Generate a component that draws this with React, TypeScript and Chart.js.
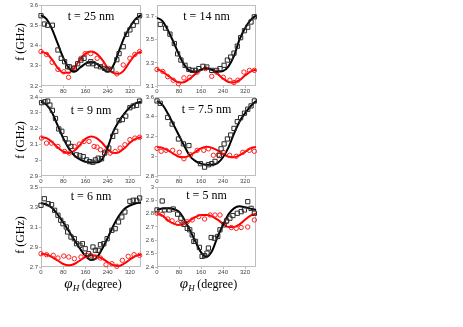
import React, { useEffect, useRef } from "react";
import { Chart, registerables } from "chart.js";
Chart.register(...registerables);

// ---------- shared axis data ----------
const X_TICKS = [0, 80, 160, 240, 320];
const FIT_X = [0, 20, 40, 60, 80, 100, 120, 140, 160, 180, 200, 220, 240, 260, 280, 300, 320, 340, 360];

// ---------- t = 25 nm ----------
const T25_TITLE = "t = 25 nm";
const T25_Y_TICKS = [3.2, 3.3, 3.4, 3.5, 3.6];
const T25_SQ_X = [0, 12, 24, 41, 61, 73, 85, 96, 102, 120, 132, 144, 155, 171, 179, 188, 200, 214, 229, 238, 255, 273, 281, 296, 308, 320, 332, 344, 355];
const T25_SQ_Y = [3.547, 3.506, 3.5, 3.5, 3.378, 3.337, 3.32, 3.295, 3.295, 3.287, 3.31, 3.328, 3.337, 3.31, 3.32, 3.31, 3.3, 3.295, 3.287, 3.28, 3.28, 3.33, 3.36, 3.394, 3.455, 3.477, 3.5, 3.518, 3.547];
const T25_CI_X = [0, 20, 40, 61, 82, 99, 118, 144, 159, 179, 202, 226, 244, 273, 296, 320, 338, 355];
const T25_CI_Y = [3.37, 3.356, 3.317, 3.282, 3.27, 3.243, 3.29, 3.337, 3.36, 3.36, 3.337, 3.3, 3.287, 3.26, 3.304, 3.337, 3.356, 3.37];
const T25_FIT_BLACK = [3.55, 3.53, 3.48, 3.41, 3.34, 3.29, 3.27, 3.29, 3.31, 3.32, 3.31, 3.29, 3.27, 3.3, 3.37, 3.44, 3.49, 3.53, 3.55];
const T25_FIT_RED = [3.37, 3.36, 3.33, 3.29, 3.265, 3.265, 3.29, 3.33, 3.36, 3.37, 3.36, 3.33, 3.29, 3.265, 3.26, 3.28, 3.32, 3.355, 3.37];

// ---------- t = 14 nm ----------
const T14_TITLE = "t = 14 nm";
const T14_Y_TICKS = [3.1, 3.3, 3.5, 3.7];
const T14_SQ_X = [12, 31, 47, 63, 75, 87, 102, 116, 128, 140, 152, 167, 181, 199, 217, 229, 244, 256, 268, 280, 292, 304, 318, 330, 342, 354];
const T14_SQ_Y = [3.632, 3.6, 3.548, 3.467, 3.378, 3.324, 3.279, 3.243, 3.235, 3.235, 3.25, 3.27, 3.264, 3.235, 3.235, 3.25, 3.279, 3.324, 3.35, 3.384, 3.444, 3.518, 3.578, 3.608, 3.653, 3.698];
const T14_CI_X = [0, 21, 39, 59, 78, 98, 119, 146, 176, 199, 217, 241, 265, 280, 294, 316, 336, 354];
const T14_CI_Y = [3.243, 3.226, 3.18, 3.15, 3.12, 3.17, 3.175, 3.22, 3.25, 3.184, 3.22, 3.175, 3.15, 3.13, 3.15, 3.22, 3.235, 3.235];
const T14_FIT_BLACK = [3.69, 3.66, 3.58, 3.48, 3.37, 3.28, 3.23, 3.225, 3.24, 3.255, 3.24, 3.225, 3.23, 3.27, 3.36, 3.5, 3.6, 3.67, 3.71];
const T14_FIT_RED = [3.245, 3.225, 3.19, 3.155, 3.13, 3.135, 3.165, 3.205, 3.24, 3.25, 3.24, 3.205, 3.165, 3.135, 3.13, 3.15, 3.19, 3.225, 3.24];

// ---------- t = 9 nm ----------
const T9_TITLE = "t = 9 nm";
const T9_Y_TICKS = [2.9, 3, 3.1, 3.2, 3.3, 3.4];
const T9_SQ_X = [2, 14, 24, 32, 41, 52, 64, 75, 87, 99, 108, 128, 140, 152, 164, 175, 187, 196, 206, 218, 229, 244, 258, 269, 281, 293, 305, 320, 332, 344, 355];
const T9_SQ_Y = [3.364, 3.37, 3.374, 3.349, 3.315, 3.264, 3.198, 3.183, 3.136, 3.108, 3.087, 3.034, 3.028, 3.023, 3.002, 2.991, 2.987, 3.002, 3.013, 3.009, 3.045, 3.077, 3.151, 3.183, 3.251, 3.257, 3.279, 3.332, 3.343, 3.347, 3.374];
const T9_CI_X = [2, 20, 38, 61, 85, 102, 120, 138, 155, 173, 191, 202, 214, 232, 249, 267, 285, 302, 320, 338, 355];
const T9_CI_Y = [3.14, 3.108, 3.108, 3.087, 3.055, 3.045, 3.087, 3.102, 3.119, 3.119, 3.087, 3.083, 3.066, 3.055, 3.045, 3.055, 3.077, 3.098, 3.13, 3.14, 3.145];
const T9_FIT_BLACK = [3.37, 3.35, 3.3, 3.22, 3.14, 3.075, 3.03, 3.005, 2.99, 2.985, 2.985, 3.005, 3.08, 3.18, 3.245, 3.295, 3.335, 3.36, 3.37];
const T9_FIT_RED = [3.145, 3.14, 3.115, 3.08, 3.055, 3.045, 3.06, 3.095, 3.135, 3.15, 3.14, 3.11, 3.07, 3.045, 3.05, 3.075, 3.11, 3.135, 3.145];

// ---------- t = 7.5 nm ----------
const T75_TITLE = "t = 7.5 nm";
const T75_Y_TICKS = [2.8, 3, 3.2, 3.4, 3.6];
const T75_SQ_X = [0, 12, 39, 55, 78, 96, 116, 158, 173, 187, 199, 211, 227, 233, 244, 256, 268, 280, 292, 304, 318, 330, 342, 354];
const T75_SQ_Y = [3.56, 3.536, 3.393, 3.326, 3.175, 3.125, 3.108, 2.925, 2.89, 2.914, 2.925, 2.948, 3.008, 3.075, 3.125, 3.175, 3.215, 3.282, 3.35, 3.39, 3.436, 3.476, 3.51, 3.56];
const T75_CI_X = [0, 15, 33, 57, 81, 98, 122, 146, 170, 187, 205, 223, 241, 264, 288, 312, 336, 354];
const T75_CI_Y = [3.08, 3.05, 3.06, 3.06, 3.04, 2.975, 3.015, 3.06, 3.06, 3.075, 3.01, 3.015, 3.04, 3.01, 3.0, 3.04, 3.06, 3.05];
const T75_FIT_BLACK = [3.56, 3.52, 3.43, 3.32, 3.21, 3.1, 3.0, 2.95, 2.925, 2.915, 2.915, 2.93, 2.99, 3.09, 3.23, 3.35, 3.435, 3.505, 3.56];
const T75_FIT_RED = [3.095, 3.085, 3.06, 3.025, 2.995, 2.99, 3.01, 3.045, 3.08, 3.095, 3.085, 3.06, 3.025, 2.995, 2.99, 3.01, 3.045, 3.08, 3.095];

// ---------- t = 6 nm ----------
const T6_TITLE = "t = 6 nm";
const T6_Y_TICKS = [2.7, 2.9, 3.1, 3.3, 3.5];
const T6_SQ_X = [0, 12, 26, 38, 49, 61, 71, 79, 91, 96, 108, 120, 128, 140, 149, 159, 171, 179, 187, 196, 206, 214, 226, 238, 255, 267, 279, 291, 302, 320, 332, 344, 355];
const T6_SQ_Y = [3.317, 3.383, 3.333, 3.323, 3.267, 3.217, 3.167, 3.133, 3.1, 3.05, 3.0, 2.983, 2.933, 2.917, 2.933, 2.883, 2.833, 2.8, 2.9, 2.867, 2.867, 2.923, 2.933, 2.983, 3.067, 3.083, 3.15, 3.2, 3.25, 3.357, 3.367, 3.367, 3.39];
const T6_CI_X = [0, 20, 44, 61, 82, 100, 120, 144, 164, 179, 196, 214, 234, 255, 273, 293, 314, 335, 355];
const T6_CI_Y = [2.833, 2.823, 2.817, 2.79, 2.81, 2.8, 2.783, 2.8, 2.817, 2.817, 2.8, 2.79, 2.723, 2.733, 2.707, 2.767, 2.807, 2.823, 2.817];
const T6_FIT_BLACK = [3.34, 3.325, 3.29, 3.225, 3.145, 3.06, 2.97, 2.885, 2.81, 2.77, 2.79, 2.88, 2.99, 3.11, 3.21, 3.28, 3.315, 3.335, 3.345];
const T6_FIT_RED = [2.833, 2.825, 2.8, 2.765, 2.73, 2.717, 2.73, 2.765, 2.8, 2.817, 2.81, 2.785, 2.75, 2.72, 2.71, 2.735, 2.775, 2.81, 2.825];

// ---------- t = 5 nm ----------
const T5_TITLE = "t = 5 nm";
const T5_Y_TICKS = [2.4, 2.5, 2.6, 2.7, 2.8, 2.9, 3];
const T5_SQ_X = [0, 19, 27, 45, 59, 75, 87, 98, 110, 119, 128, 134, 140, 154, 164, 173, 182, 187, 197, 209, 221, 229, 244, 253, 265, 276, 292, 306, 318, 330, 342, 354];
const T5_SQ_Y = [2.828, 2.895, 2.828, 2.828, 2.835, 2.796, 2.766, 2.72, 2.69, 2.679, 2.641, 2.592, 2.592, 2.547, 2.48, 2.485, 2.504, 2.542, 2.621, 2.616, 2.629, 2.679, 2.716, 2.746, 2.766, 2.786, 2.803, 2.815, 2.828, 2.89, 2.84, 2.803];
const T5_CI_X = [0, 19, 39, 55, 75, 93, 110, 128, 152, 173, 193, 211, 229, 253, 270, 288, 306, 330, 354];
const T5_CI_Y = [2.803, 2.795, 2.76, 2.746, 2.728, 2.728, 2.74, 2.753, 2.778, 2.76, 2.79, 2.79, 2.79, 2.74, 2.696, 2.69, 2.696, 2.7, 2.753];
const T5_FIT_BLACK = [2.83, 2.838, 2.84, 2.835, 2.815, 2.755, 2.675, 2.59, 2.51, 2.475, 2.52, 2.625, 2.715, 2.795, 2.84, 2.855, 2.848, 2.838, 2.828];
const T5_FIT_RED = [2.8, 2.785, 2.75, 2.725, 2.715, 2.725, 2.75, 2.775, 2.79, 2.79, 2.78, 2.755, 2.725, 2.7, 2.7, 2.72, 2.755, 2.785, 2.8];

const Y_TITLE = "f (GHz)";
const X_TITLE_SYM = "φ";
const X_TITLE_SUB = "H";
const X_TITLE_REST = "(degree)";

const pts = (xs: number[], ys: number[]) => xs.map((x, i) => ({ x, y: ys[i] }));

type PanelProps = {
  left: number; top: number; width: number; height: number;
  padL: number; padT: number; padR: number; padB: number;
  title: string; titleDy: number;
  yMin: number; yMax: number; yTicks: number[];
  sqX: number[]; sqY: number[]; ciX: number[]; ciY: number[];
  fitBlack: number[]; fitRed: number[];
  yTitleY?: number; xTitle?: boolean;
};

function Panel(p: PanelProps) {
  const ref = useRef<HTMLCanvasElement | null>(null);
  useEffect(() => {
    if (!ref.current) return;
    const plugin = {
      id: "frame",
      beforeDatasetsDraw(chart: any) {
        const { ctx, chartArea: a } = chart;
        ctx.save();
        ctx.strokeStyle = "#bdbdbd";
        ctx.lineWidth = 1;
        ctx.strokeRect(a.left + 0.5, a.top + 0.5, a.right - a.left - 1, a.bottom - a.top - 1);
        ctx.restore();
      },
      afterDraw(chart: any) {
        const { ctx, chartArea: a } = chart;
        ctx.save();
        ctx.fillStyle = "#000";
        ctx.font = '12px "Liberation Serif"';
        ctx.textAlign = "center";
        ctx.textBaseline = "middle";
        ctx.fillText(p.title, (a.left + a.right) / 2, a.top + p.titleDy);
        if (p.yTitleY !== undefined) {
          ctx.save();
          ctx.translate(21 - p.left, p.yTitleY - p.top);
          ctx.rotate(-Math.PI / 2);
          ctx.font = '12px "Liberation Serif"';
          ctx.fillText(Y_TITLE, 0, 0);
          ctx.restore();
        }
        if (p.xTitle) {
          ctx.textAlign = "left";
          ctx.textBaseline = "alphabetic";
          const f1 = 'italic 15px "Liberation Serif"';
          const f2 = 'italic 9px "Liberation Serif"';
          const f3 = '12px "Liberation Serif"';
          ctx.font = f1; const w1 = ctx.measureText(X_TITLE_SYM).width;
          ctx.font = f2; const w2 = ctx.measureText(X_TITLE_SUB).width;
          ctx.font = f3; const w3 = ctx.measureText(X_TITLE_REST).width;
          const gap = 2.5;
          const total = w1 + w2 + gap + w3;
          let x = (a.left + a.right) / 2 + 2 - total / 2;
          const base = 288 - p.top;
          ctx.font = f1; ctx.fillText(X_TITLE_SYM, x, base); x += w1;
          ctx.font = f2; ctx.fillText(X_TITLE_SUB, x, base + 3); x += w2 + gap;
          ctx.font = f3; ctx.fillText(X_TITLE_REST, x, base);
        }
        ctx.restore();
      },
    };
    const tickFont = { family: '"Liberation Sans"', size: 6 };
    const chart = new Chart(ref.current, {
      type: "scatter",
      data: {
        datasets: [
          {
            data: pts(p.sqX, p.sqY), showLine: false, pointStyle: "rect", pointRadius: 3,
            borderColor: "#2a2a2a", backgroundColor: "rgba(0,0,0,0)", borderWidth: 1, clip: false as any,
          },
          {
            data: pts(p.ciX, p.ciY), showLine: false, pointStyle: "circle", pointRadius: 2.2,
            borderColor: "#ff2020", backgroundColor: "rgba(0,0,0,0)", borderWidth: 1, clip: false as any,
          },
          {
            data: pts(FIT_X, p.fitBlack), showLine: true, pointRadius: 0, borderColor: "#000",
            borderWidth: 2, cubicInterpolationMode: "monotone", clip: false as any,
          },
          {
            data: pts(FIT_X, p.fitRed), showLine: true, pointRadius: 0, borderColor: "#ff0000",
            borderWidth: 2, cubicInterpolationMode: "monotone", clip: false as any,
          },
        ] as any,
      },
      options: {
        animation: false,
        responsive: false,
        events: [],
        layout: { padding: { left: 0, top: p.padT, right: p.padR, bottom: 0 } },
        plugins: { legend: { display: false }, tooltip: { enabled: false }, title: { display: false } },
        scales: {
          x: {
            type: "linear", min: 0, max: 360,
            afterBuildTicks: (s: any) => { s.ticks = X_TICKS.map((v) => ({ value: v })); },
            afterFit: (s: any) => { s.height = p.padB; },
            ticks: { font: tickFont, color: "#444", padding: 0, autoSkip: false, maxRotation: 0, callback: (v: any) => String(v) },
            grid: { display: true, drawOnChartArea: false, drawTicks: true, tickLength: 2, color: "#bdbdbd" },
            border: { display: false },
          },
          y: {
            type: "linear", min: p.yMin, max: p.yMax,
            afterBuildTicks: (s: any) => { s.ticks = p.yTicks.map((v) => ({ value: v })); },
            afterFit: (s: any) => { s.width = p.padL; },
            ticks: { font: tickFont, color: "#444", padding: 1, autoSkip: false, callback: (v: any) => String(v) },
            grid: { display: true, drawOnChartArea: false, drawTicks: true, tickLength: 2, color: "#bdbdbd" },
            border: { display: false },
          },
        },
      } as any,
      plugins: [plugin],
    });
    return () => chart.destroy();
  }, []);
  return (
    <canvas
      ref={ref}
      width={p.width}
      height={p.height}
      style={{ position: "absolute", left: p.left, top: p.top, width: p.width, height: p.height }}
    />
  );
}

// layout geometry (plot areas): left col x 41-143, right col x 157-257
// rows: 5-86, 97-176, 187-267
const LEFT = { left: 0, width: 146, padL: 41, padR: 3 };
const RIGHT = { left: 143, width: 118, padL: 14, padR: 4 };
const ROW1 = { top: 0, height: 98, padT: 5, padB: 12 };
const ROW2 = { top: 92, height: 96, padT: 5, padB: 12 };
const ROW3 = { top: 182, height: 120, padT: 5, padB: 35 };

export default function App() {
  return (
    <div style={{ position: "absolute", left: 0, top: 0, width: 463, height: 327, background: "#fff" }}>
      <Panel {...LEFT} {...ROW1} title={T25_TITLE} titleDy={12} yMin={3.2} yMax={3.6} yTicks={T25_Y_TICKS}
        sqX={T25_SQ_X} sqY={T25_SQ_Y} ciX={T25_CI_X} ciY={T25_CI_Y} fitBlack={T25_FIT_BLACK} fitRed={T25_FIT_RED} yTitleY={42} />
      <Panel {...RIGHT} {...ROW1} title={T14_TITLE} titleDy={12} yMin={3.1} yMax={3.8} yTicks={T14_Y_TICKS}
        sqX={T14_SQ_X} sqY={T14_SQ_Y} ciX={T14_CI_X} ciY={T14_CI_Y} fitBlack={T14_FIT_BLACK} fitRed={T14_FIT_RED} />
      <Panel {...LEFT} {...ROW2} title={T9_TITLE} titleDy={14} yMin={2.9} yMax={3.4} yTicks={T9_Y_TICKS}
        sqX={T9_SQ_X} sqY={T9_SQ_Y} ciX={T9_CI_X} ciY={T9_CI_Y} fitBlack={T9_FIT_BLACK} fitRed={T9_FIT_RED} yTitleY={140} />
      <Panel {...RIGHT} {...ROW2} title={T75_TITLE} titleDy={13} yMin={2.8} yMax={3.6} yTicks={T75_Y_TICKS}
        sqX={T75_SQ_X} sqY={T75_SQ_Y} ciX={T75_CI_X} ciY={T75_CI_Y} fitBlack={T75_FIT_BLACK} fitRed={T75_FIT_RED} />
      <Panel {...LEFT} {...ROW3} title={T6_TITLE} titleDy={10} yMin={2.7} yMax={3.5} yTicks={T6_Y_TICKS}
        sqX={T6_SQ_X} sqY={T6_SQ_Y} ciX={T6_CI_X} ciY={T6_CI_Y} fitBlack={T6_FIT_BLACK} fitRed={T6_FIT_RED} yTitleY={235} xTitle />
      <Panel {...RIGHT} {...ROW3} title={T5_TITLE} titleDy={9} yMin={2.4} yMax={3.0} yTicks={T5_Y_TICKS}
        sqX={T5_SQ_X} sqY={T5_SQ_Y} ciX={T5_CI_X} ciY={T5_CI_Y} fitBlack={T5_FIT_BLACK} fitRed={T5_FIT_RED} xTitle />
    </div>
  );
}
